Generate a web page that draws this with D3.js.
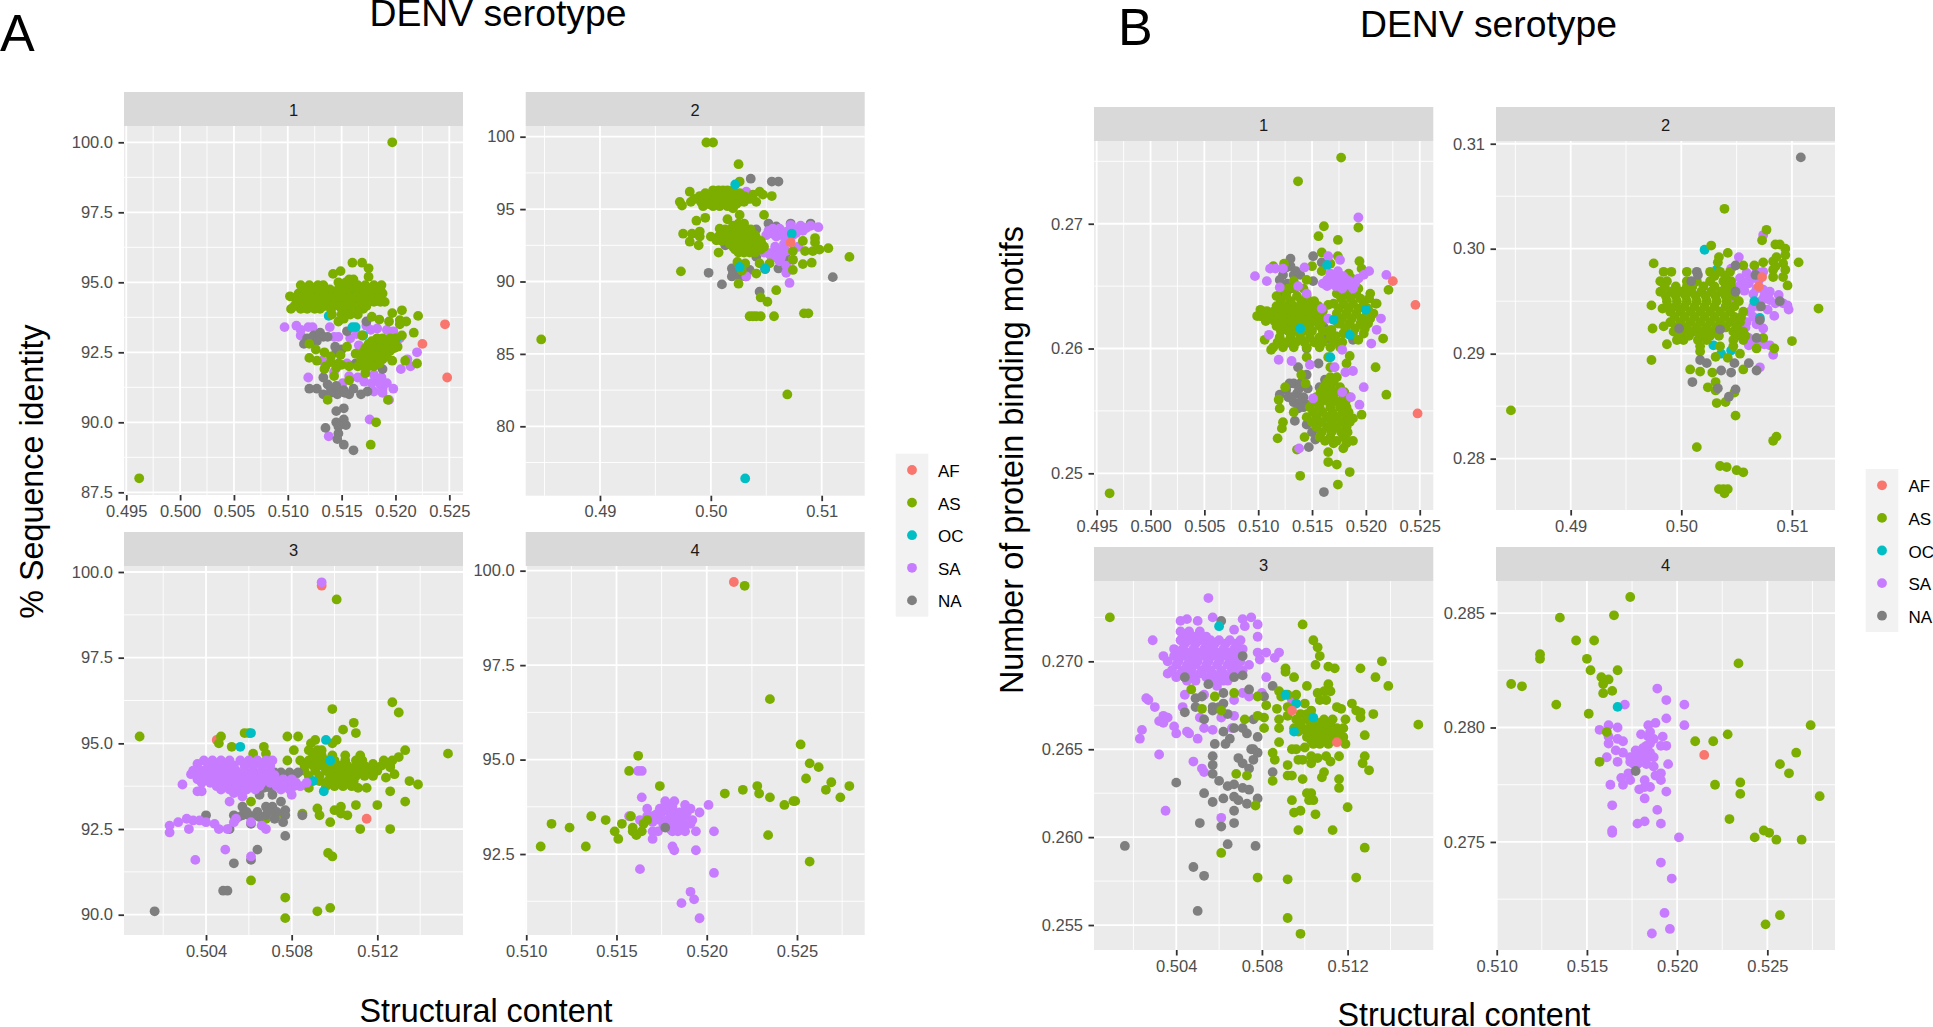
<!DOCTYPE html>
<html><head><meta charset="utf-8">
<script src="https://cdn.jsdelivr.net/npm/d3@7/dist/d3.min.js"></script>
<style>html,body{margin:0;padding:0;background:#fff;overflow:hidden}svg{display:block;font-family:"Liberation Sans",Arial,sans-serif}</style>
</head><body><svg id="c" width="1933" height="1027"></svg>
<script>
const regions=["AF","AS","OC","SA","NA"];
const regionColors=["#F8766D","#7CAE00","#00BFC4","#C77CFF","#7F7F7F"];
const titleText="DENV serotype", xTitle="Structural content", yTitleA="% Sequence identity", yTitleB="Number of protein binding motifs";

/* ---------- Figure A, serotype 1 ---------- */
const a1_AF=[[.5246,93.5],[.5225,92.8],[.5248,91.6]];
const a1_OC=[[.5158,94.6],[.5138,93.8],[.5163,93.4],[.5160,93.4],[.5201,93],[.5170,93.1]];
const a1_SA=[[.5097,93.4],[.5108,93.45],[.5112,93.3],[.5112,93.1],[.5119,93.4],[.5123,93.4],[.5139,93.4],[.5147,93.05],[.5143,93.05],[.5158,93],[.5164,93.15],[.5166,92.75],[.5173,93.45],[.5177,93.3],[.5183,93.35],[.5192,93.3],[.5198,93.25],[.5204,93.0],[.5220,92.5],[.5211,92.25],[.5205,91.9],[.5214,92.0],[.5132,92.2],[.5119,91.6],[.5143,91.8],[.5151,91.4],[.5157,91.65],[.5165,91.6],[.5171,91.45],[.5180,91.7],[.5184,91.5],[.5192,91.4],[.5198,91.2],[.5180,91.1],[.5188,91.2],[.5188,91.05],[.5194,90.8],[.5176,90.1],[.5138,89.5],[.5155,92.1],[.5178,91.4],[.5186,91.35],[.5187,91.6]];
const a1_NA=[[.5115,92.8],[.5118,93],[.5124,93.1],[.5130,93.2],[.5133,93.05],[.5127,92.9],[.5137,93.05],[.5144,92.7],[.5150,92.6],[.5145,92.5],[.5173,93.6],[.5155,93.25],[.5163,92.1],[.5188,91.9],[.5120,91.2],[.5127,91.2],[.5133,91.6],[.5133,91.0],[.5140,91.2],[.5146,91.0],[.5152,91.15],[.5157,91.0],[.5161,91.2],[.5168,91.0],[.5174,91.1],[.5137,91.35],[.5145,91.3],[.5153,91.05],[.5140,91.05],[.5145,90.4],[.5152,90.5],[.5145,90],[.5152,90.1],[.5154,89.9],[.5135,89.8],[.5147,89.6],[.5146,89.4],[.5152,89.2],[.5161,89.0],[.5147,89.85]];
const a1_AS=[[.5197,100],[.4962,88],[.5160,95.7],[.5169,95.7],[.5175,95.5],[.5149,95.4],[.5142,95.3],[.5175,95.2],[.5157,95.1],[.5161,95.1],[.5147,95.0],[.5154,95.0],
[.5112,94.9],[.5120,94.9],[.5128,94.9],[.5133,94.9],[.5150,94.9],[.5158,94.9],[.5165,94.9],[.5172,94.9],[.5180,94.9],[.5187,94.9],
[.5110,94.6],[.5115,94.6],[.5120,94.6],[.5125,94.6],[.5130,94.6],[.5135,94.6],[.5140,94.6],[.5145,94.6],[.5150,94.6],[.5155,94.6],[.5165,94.6],[.5170,94.6],[.5175,94.6],[.5180,94.6],[.5185,94.6],[.5188,94.6],
[.5102,94.5],[.5108,94.3],[.5114,94.3],[.5119,94.3],[.5125,94.3],[.5130,94.3],[.5135,94.3],[.5140,94.3],[.5146,94.3],[.5152,94.3],[.5158,94.3],[.5164,94.3],[.5170,94.3],[.5180,94.3],[.5186,94.3],[.5190,94.3],
[.5103,94.05],[.5112,94.05],[.5118,94.05],[.5125,94.05],[.5130,94.05],[.5140,94.05],[.5150,94.05],[.5155,94.05],[.5165,94.05],[.5170,94.05],
[.5178,93.77],[.5185,93.67],[.5197,93.9],[.5206,94.0],[.5221,93.8],[.5194,93.6],[.5204,93.65],[.5210,93.6],[.5204,93.5],[.5217,93.2],[.5206,93.1],[.5141,93.85],[.5147,93.6],
[.5169,93.1],[.5183,93],[.5188,93],[.5195,93],[.5200,93],[.5175,92.8],[.5180,92.8],[.5185,92.8],[.5190,92.8],[.5197,92.8],[.5202,92.7],[.5170,92.5],[.5175,92.5],[.5180,92.5],[.5185,92.5],[.5190,92.5],[.5195,92.55],[.5168,92.25],[.5173,92.25],[.5178,92.25],[.5183,92.25],[.5188,92.25],[.5197,92.2],[.5165,92.0],[.5170,92.0],[.5175,92.0],[.5180,92.0],[.5185,92.1],
[.5120,92.8],[.5126,92.6],[.5120,92.3],[.5127,92.2],[.5134,92.5],[.5135,92.0],[.5134,91.9],[.5143,91.65],[.5157,91.5],[.5140,92.35],[.5147,92.1],[.5149,92.4],[.5155,92.7],[.5157,92.0],[.5163,92.45],[.5172,91.75],[.5209,92.2],[.5220,92.1],[.5137,90.8],[.5193,90.8],[.5182,90],[.5177,89.2],[.5145,91.95],[.5150,92.05],[.5140,92.15],
[.5115,94.75],[.5123,94.75],[.5131,94.75],[.5139,94.75],[.5147,94.75],[.5155,94.75],[.5163,94.75],[.5171,94.75],[.5179,94.75],[.5186,94.75],
[.5107,94.45],[.5113,94.45],[.5118,94.45],[.5123,94.45],[.5128,94.45],[.5133,94.45],[.5138,94.45],[.5143,94.45],[.5148,94.45],[.5153,94.45],[.5158,94.45],[.5163,94.45],[.5168,94.45],[.5173,94.45],[.5178,94.45],[.5183,94.45],
[.5106,94.15],[.5116,94.15],[.5122,94.15],[.5128,94.15],[.5134,94.15],[.5143,94.15],[.5148,94.15],[.5153,94.15],[.5160,94.15],[.5167,94.15],[.5173,94.15],
[.5172,92.65],[.5178,92.65],[.5183,92.65],[.5188,92.65],[.5193,92.65],[.5199,92.65],[.5172,92.35],[.5177,92.35],[.5182,92.35],[.5187,92.35],[.5192,92.35],[.5178,92.9],[.5186,92.9],[.5192,92.9],[.5197,92.9],[.5150,93.85],[.5158,93.85],[.5165,93.85],[.5152,93.7]];

/* ---------- Figure A, serotype 2 ---------- */
const a2_AF=[[.5072,92.7]];
const a2_OC=[[.5022,96.7],[.5031,76.4],[.5049,90.9],[.5026,91],[.5073,93.3]];
const a2_SA=[[.5050,93.2],[.5056,93.65],[.5062,93.65],[.5059,93.1],[.5072,93.9],[.5081,93.85],[.5090,93.85],[.5097,93.75],[.5083,93.5],[.5074,93.2],[.5066,92.6],[.5048,92],[.5056,92],[.5062,92.1],[.5068,92.1],[.5059,91.65],[.5062,91.4],[.5074,91.5],[.5068,90.6],[.5071,89.9],[.5032,96.2],[.5032,90.35],[.5068,91.1],[.5079,92.4],[.5054,91.8],[.5065,93.4],[.5070,93.5],[.5077,93.6],[.5058,92.4],[.5064,91.85],[.5056,93.3],
[.5064,93.2],[.5068,93.1],[.5077,93.35],[.5086,93.7],[.5052,91.95],[.5060,92.2],[.5066,92.3],[.5058,91.8],[.5063,91.6],[.5052,93.5],[.5062,93.3]];
const a2_NA=[[.5036,97.1],[.5055,96.9],[.5061,96.9],[.5052,94],[.5041,93.6],[.5059,93.8],[.5072,94],[.5090,94],[.5006,93],[.5013,92.5],[.5015,92.6],[.5019,90.9],[.5020,90.6],[.5019,90.35],[.5026,90.35],[.5031,90.35],[.5032,90.7],[.4998,90.6],[.5010,89.8],[.5044,89.3],[.5110,90.3],[.5041,91.7],[.5061,90.9],[.5049,90.85],[.5068,91.6],[.5035,90.8],[.5025,90.7]];
const a2_AS=[[.4996,99.6],[.5002,99.6],[.5025,98.1],[.5026,96.9],[.4981,96.2],[.4972,95.5],[.4974,95.25],[.4982,95.5],[.5002,96.3],[.5011,96.3],[.5020,96.3],[.5044,96.2],[.5007,96.3],[.5015,96.3],
[.4990,95.9],[.4995,95.9],[.5000,95.9],[.5005,95.9],[.5010,95.9],[.5015,95.9],[.5020,95.9],[.5025,95.9],[.5030,95.9],[.5055,95.9],[.5047,96],[.5038,96],
[.4991,95.5],[.4996,95.5],[.5001,95.5],[.5006,95.5],[.5011,95.5],[.5016,95.5],[.5021,95.5],[.5026,95.5],[.5030,95.5],[.5041,95.5],[.5035,95.7],
[.4993,95.2],[.5002,95.2],[.5008,95.2],[.5015,95.2],[.5020,95.05],
[.5048,94.6],[.4995,94.4],[.4987,94.2],[.5015,94.3],[.5026,94.6],[.5025,94],[.5030,94],[.5013,93.6],[.5018,93.6],[.5023,93.6],[.5028,93.6],[.5033,93.6],[.5036,93.6],
[.5008,93.2],[.5013,93.2],[.5018,93.2],[.5023,93.2],[.5028,93.2],[.5033,93.2],[.5038,93.2],[.5040,93.2],[.5010,92.8],[.5015,92.8],[.5020,92.8],[.5025,92.8],[.5030,92.8],[.5035,92.8],[.5040,92.8],[.5045,92.8],[.5020,92.4],[.5026,92.4],[.5032,92.4],[.5038,92.4],[.5044,92.4],[.5048,92.4],[.5025,92],[.5030,92],[.5035,92],[.5040,92],
[.4975,93.3],[.4983,93.3],[.4990,93.45],[.4990,93.1],[.5,93.1],[.4981,92.75],[.4989,92.5],[.5005,92.85],[.5008,93.65],[.5007,92],[.4973,90.7],
[.5024,91.35],[.5031,91.25],[.5028,90.75],[.5041,90.55],[.5044,91.25],[.5053,91.25],[.5025,89.85],[.5059,89.4],[.5045,88.9],[.5051,88.6],[.5035,87.6],[.5038,87.6],[.5041,87.6],[.5045,87.6],[.5057,87.6],[.5084,87.8],[.5088,87.8],[.5069,82.2],[.4847,86],[.5125,91.7],[.5106,92.3],[.5098,92.2],[.5092,92.1],[.5094,93],[.5094,92.7],[.5083,92.8],[.5085,92.1],[.5091,91.3],[.5083,91.2],[.5074,90.8],[.5074,91.5],[.5074,92.1],
[.4995,96.1],[.5002,96.1],[.5008,96.1],[.5014,96.1],[.5020,96.1],[.5026,96.1],[.4985,95.7],[.4993,95.7],[.4998,95.7],[.5003,95.7],[.5008,95.7],[.5013,95.7],[.5018,95.7],[.5023,95.7],[.5028,95.7],[.4998,95.35],[.5005,95.35],[.5012,95.35],[.5018,95.35],[.5023,95.35],
[.5020,93.85],[.5027,93.85],[.5011,93.4],[.5016,93.4],[.5021,93.4],[.5026,93.4],[.5031,93.4],[.5036,93.4],[.5006,93.0],[.5011,93.0],[.5016,93.0],[.5021,93.0],[.5026,93.0],[.5031,93.0],[.5036,93.0],[.5041,93.0],[.5017,92.6],[.5022,92.6],[.5028,92.6],[.5034,92.6],[.5040,92.6],[.5046,92.6],[.5022,92.2],[.5028,92.2],[.5034,92.2],[.5040,92.2],[.5045,92.2]];

/* ---------- Figure A, serotype 3 ---------- */
const a3_AF=[[.5094,99.6],[.5045,95.1],[.5115,92.8]];
const a3_OC=[[.5061,95.3],[.5056,94.9],[.5096,95.1],[.5098,94.5],[.5095,93.6],[.5090,93.9]];
const a3_SA=[[.5039,94.5],[.5043,94.5],[.5047,94.5],[.5051,94.5],[.5056,94.5],[.5060,94.5],[.5064,94.5],[.5068,94.5],[.5071,94.5],
[.5034,94.2],[.5038,94.2],[.5042,94.2],[.5046,94.2],[.5050,94.2],[.5054,94.2],[.5058,94.2],[.5062,94.2],[.5066,94.2],[.5070,94.2],
[.5036,93.95],[.5040,93.95],[.5044,93.95],[.5048,93.95],[.5052,93.95],[.5056,93.95],[.5060,93.95],[.5064,93.95],[.5068,93.95],[.5072,93.95],[.5076,93.95],[.5080,93.95],
[.5045,93.75],[.5049,93.75],[.5053,93.75],[.5057,93.75],[.5061,93.75],[.5065,93.75],[.5073,93.75],[.5077,93.75],[.5081,93.75],[.5084,93.75],
[.5029,93.8],[.5036,93.6],[.5038,93.6],[.5036,94.4],[.5033,94.1],[.5051,93.3],[.5053,93.55],[.5057,93.45],[.5080,93.5],[.5087,93.85],
[.5023,92.4],[.5023,92.6],[.5027,92.7],[.5031,92.8],[.5034,92.75],[.5037,92.75],[.5040,92.7],[.5044,92.65],[.5032,92.5],[.5046,92.5],[.5050,92.5],[.5053,92.7],[.5054,92.8],[.5061,92.7],[.5066,92.6],[.5068,92.5],[.5049,91.9],[.5035,91.6],[.5061,91.7],[.5094,99.7],
[.5041,94.35],[.5045,94.35],[.5049,94.35],[.5053,94.35],[.5058,94.35],[.5062,94.35],[.5066,94.35],[.5070,94.35],[.5036,94.07],[.5040,94.07],[.5044,94.07],[.5048,94.07],[.5052,94.07],[.5056,94.07],[.5060,94.07],[.5064,94.07],[.5068,94.07],[.5072,94.07],[.5038,93.85],[.5042,93.85],[.5046,93.85],[.5050,93.85],[.5054,93.85],[.5058,93.85],[.5062,93.85],[.5066,93.85],[.5070,93.85],[.5074,93.85],[.5078,93.85],[.5082,93.85],[.5047,93.65],[.5051,93.65],[.5055,93.65],[.5059,93.65],[.5063,93.65],[.5075,93.65],[.5079,93.65]];
const a3_NA=[[.5072,94.15],[.5075,94.15],[.5079,94.15],[.5083,94.15],[.5055,93.8],[.5062,93.8],[.5067,93.7],[.5070,93.7],[.5065,93.5],[.5071,93.5],[.5075,93.3],[.5057,93.15],[.5060,92.9],[.5057,92.9],[.5063,92.9],[.5068,93.15],[.5071,93.15],[.5068,92.9],[.5072,92.8],[.5077,93.05],[.5077,92.9],[.5076,92.7],[.5053,92.9],[.5061,92.65],[.5040,92.9],[.5085,92.9],[.5077,92.3],[.5064,91.9],[.5061,91.6],[.5053,91.5],[.5048,90.7],[.5050,90.7],[.5016,90.1],[.5051,92.5],[.5059,93.0],[.5064,93.0],[.5069,93.0],[.5073,93.0],[.5055,92.85],[.5065,92.85]];
const a3_AS=[[.5009,95.2],[.5101,99.2],[.5127,96.2],[.5130,95.9],[.5099,96],[.5109,95.6],[.5104,95.4],[.5110,95.3],[.5153,94.7],[.5133,94.8],[.5047,95.2],[.5046,95],[.5052,94.9],[.5058,95.3],[.5060,95.3],[.5067,94.9],[.5062,94.7],[.5068,94.7],[.5078,95.2],[.5083,95.2],[.5081,94.8],[.5078,94.5],[.5091,95.1],[.5089,95],[.5101,95.1],[.5099,95],
[.5088,94.8],[.5092,94.8],[.5094,94.8],[.5084,94.5],[.5088,94.5],[.5092,94.5],[.5096,94.5],[.5100,94.5],[.5105,94.5],[.5110,94.5],[.5113,94.5],[.5123,94.5],[.5127,94.5],[.5130,94.6],[.5118,94.4],
[.5086,94.2],[.5091,94.2],[.5096,94.2],[.5100,94.2],[.5104,94.2],[.5108,94.2],[.5112,94.2],[.5116,94.2],[.5120,94.2],[.5126,94.3],
[.5093,93.9],[.5097,93.9],[.5101,93.9],[.5105,93.9],[.5109,93.9],[.5111,93.7],[.5115,93.7],[.5118,94.05],[.5124,94],[.5128,94.1],[.5135,93.9],[.5139,93.8],[.5126,93.6],[.5133,93.3],[.5120,93.2],[.5110,93.2],[.5103,93.15],[.5100,93.05],[.5106,92.9],[.5103,92.95],[.5098,92.7],[.5093,92.9],[.5092,93.1],[.5085,92.95],[.5088,93.7],[.5082,94.1],[.5112,92.5],[.5126,92.5],[.5073,92.9],[.5068,92.8],[.5061,93.3],[.5097,91.8],[.5099,91.7],[.5061,91],[.5077,90.5],[.5098,90.2],[.5092,90.1],[.5077,89.9],
[.5086,94.35],[.5090,94.35],[.5094,94.35],[.5098,94.35],[.5102,94.35],[.5106,94.35],[.5110,94.35],[.5114,94.35],[.5118,94.35],[.5122,94.35],[.5126,94.35],[.5088,94.05],[.5093,94.05],[.5098,94.05],[.5102,94.05],[.5106,94.05],[.5110,94.05],[.5114,94.05],[.5090,94.65],[.5094,94.65],[.5099,94.65],[.5105,94.65],[.5112,94.65],[.5096,93.75],[.5100,93.75],[.5104,93.75],[.5108,93.75]];

/* ---------- Figure A, serotype 4 ---------- */
const a4_AF=[[.5215,99.7]];
const a4_OC=[];
const a4_NA=[[.5177,93.2]];
const a4_SA=[[.5162,94.7],[.5164,94.7],[.5164,94],[.5167,93.7],[.5174,93.7],[.5177,93.9],[.5182,93.9],[.5188,93.8],[.5191,93.7],[.5196,93.6],[.5201,93.8],[.5157,93.5],[.5163,93.4],[.5167,93.5],[.5170,93.5],[.5175,93.6],[.5179,93.7],[.5182,93.6],[.5185,93.6],[.5189,93.6],[.5192,93.4],[.5186,93.4],[.5182,93.4],[.5178,93.4],[.5174,93.4],[.5170,93.35],[.5170,93.1],[.5173,93.1],[.5181,93.1],[.5184,93.1],[.5188,93.1],[.5194,93.1],[.5183,93.3],[.5180,93.3],[.5191,93.3],[.5204,93.1],[.5170,92.9],[.5181,92.7],[.5182,92.6],[.5194,92.6],[.5163,92.1],[.5204,92],[.5191,91.5],[.5193,91.3],[.5186,91.2],[.5196,90.8],
[.5172,93.55],[.5180,93.55],[.5184,93.5],[.5188,93.5],[.5176,93.25],[.5180,93.15],[.5184,93.25],[.5188,93.25],[.5177,93.8],[.5181,93.75]];
const a4_AS=[[.5221,99.6],[.5235,96.6],[.5252,95.4],[.5257,94.9],[.5262,94.8],[.5255,94.5],[.5269,94.4],[.5266,94.2],[.5279,94.3],[.5274,94],[.5228,94.3],[.5229,94.1],[.5220,94.2],[.5210,94.1],[.5235,94],[.5243,93.8],[.5248,93.9],[.5249,93.9],[.5234,93],[.5257,92.3],[.5162,95.1],[.5157,94.7],[.5174,94.3],[.5136,93.5],[.5144,93.4],[.5114,93.3],[.5124,93.2],[.5108,92.7],[.5133,92.7],[.5149,93.1],[.5153,93.3],[.5151,92.9],[.5158,93.5],[.5159,93.2],[.5159,93.1],[.5161,93],[.5164,93.1],[.5165,93.3],[.5167,93.4]];

/* ---------- Figure B, serotype 1 ---------- */
const b1_AF=[[.5225,.2654],[.5246,.2635],[.5248,.2548]];
const b1_OC=[[.5164,.2667],[.5200,.2631],[.5170,.2623],[.5185,.2611],[.5167,.2593],[.5139,.2616]];
const b1_SA=[[.5193,.2705],[.5097,.2658],[.5108,.2654],[.5111,.2664],[.5116,.2664],[.5123,.2664],[.5120,.2649],[.5143,.2665],[.5145,.2644],[.5137,.2650],[.5165,.2674],[.5176,.2671],[.5174,.2662],[.5164,.2655],[.5170,.2654],[.5176,.2652],[.5182,.2651],[.5188,.2648],[.5164,.2650],[.5172,.2650],[.5179,.2658],[.5193,.2656],[.5198,.2659],[.5203,.2662],[.5219,.2659],[.5159,.2632],[.5165,.2624],[.5214,.2624],[.5210,.2615],[.5205,.2604],[.5110,.2611],[.5119,.2591],[.5131,.2590],[.5148,.2587],[.5171,.2585],[.5181,.2581],[.5188,.2582],[.5198,.2569],[.5178,.2565],[.5186,.2561],[.5194,.2555],[.5138,.2520],[.5151,.2560],[.5178,.2599],
[.5167,.2660],[.5173,.2657],[.5181,.2656],[.5168,.2652],[.5178,.2648],[.5185,.2654],[.5160,.2652],[.5190,.2652]];
const b1_NA=[[.5130,.2672],[.5151,.2674],[.5159,.2669],[.5130,.2666],[.5123,.2659],[.5133,.2659],[.5120,.2655],[.5139,.2659],[.5151,.2654],[.5130,.2648],[.5120,.2643],[.5161,.2617],[.5164,.2608],[.5131,.2604],[.5145,.2600],[.5156,.2588],[.5137,.2585],[.5133,.2572],[.5139,.2572],[.5145,.2579],[.5126,.2567],[.5120,.2563],[.5136,.2564],[.5142,.2561],[.5133,.2557],[.5139,.2557],[.5145,.2555],[.5162,.2575],[.5157,.2569],[.5134,.2542],[.5145,.2539],[.5157,.2541],[.5150,.2533],[.5153,.2527],[.5147,.2521],[.5161,.2485],[.5188,.2607],
[.5126,.2665],[.5127,.2652],[.5135,.2662],[.5126,.2645],[.5129,.2572],[.5131,.2561],[.5137,.2552],[.5142,.2553],[.5128,.2561],[.5138,.2568],[.5146,.2568]];
const b1_AS=[[.5177,.2753],[.5137,.2734],[.4962,.2484],[.5161,.2698],[.5193,.2697],[.5156,.2690],[.5174,.2687],[.5159,.2677],[.5174,.2674],[.5194,.2670],[.5167,.2668],[.5196,.2664],[.5114,.2666],[.5124,.2668],[.5150,.2666],[.5159,.2662],[.5184,.2660],[.5187,.2656],[.5133,.2654],[.5145,.2655],
[.5117,.2642],[.5126,.2642],[.5136,.2642],[.5145,.2642],[.5117,.2634],[.5125,.2634],[.5133,.2634],[.5140,.2634],[.5148,.2634],[.5156,.2634],
[.5099,.2626],[.5103,.2626],[.5111,.2626],[.5119,.2626],[.5126,.2626],[.5134,.2626],[.5142,.2626],[.5150,.2626],[.5157,.2626],
[.5117,.2618],[.5125,.2618],[.5133,.2618],[.5140,.2618],[.5148,.2618],[.5157,.2618],[.5120,.2609],[.5130,.2609],[.5139,.2609],[.5148,.2609],[.5157,.2609],[.5167,.2609],[.5114,.2601],[.5123,.2601],[.5133,.2601],[.5145,.2601],[.5157,.2601],[.5167,.2601],[.5176,.2601],
[.5173,.2644],[.5182,.2644],[.5191,.2644],[.5204,.2644],[.5170,.2636],[.5179,.2636],[.5188,.2636],[.5198,.2636],[.5209,.2636],[.5173,.2628],[.5182,.2628],[.5191,.2628],[.5201,.2628],[.5207,.2628],[.5176,.2620],[.5185,.2620],[.5195,.2620],[.5202,.2620],[.5179,.2612],[.5188,.2612],[.5198,.2612],[.5193,.2607],
[.5167,.2577],[.5173,.2577],[.5161,.2569],[.5167,.2569],[.5176,.2569],[.5154,.2561],[.5162,.2561],[.5170,.2561],[.5179,.2561],[.5184,.2561],[.5148,.2553],[.5157,.2553],[.5167,.2553],[.5176,.2553],[.5182,.2553],[.5145,.2545],[.5154,.2545],[.5164,.2545],[.5173,.2545],[.5182,.2545],[.5188,.2544],[.5154,.2537],[.5164,.2537],[.5173,.2537],[.5182,.2537],[.5157,.2529],[.5167,.2529],[.5179,.2529],[.5170,.2524],[.5182,.2524],[.5188,.2526],[.5179,.2520],
[.5119,.2559],[.5120,.2552],[.5123,.2541],[.5122,.2536],[.5118,.2528],[.5133,.2549],[.5143,.2529],[.5136,.2519],[.5165,.2517],[.5165,.2509],[.5173,.2507],[.5185,.2501],[.5174,.2491],[.5139,.2498],[.5196,.2547],[.5209,.2585],[.5219,.2563],[.5216,.2608],[.5221,.2647],[.5210,.2636],[.5185,.2594],[.5182,.2588],[.5145,.2593],[.5140,.2579],[.5144,.2572],[.5165,.2593],[.5167,.2585],[.5106,.2607],[.5112,.2599],[.5102,.2631],[.5102,.2626],[.5125,.2569],
[.5122,.2648],[.5128,.2648],[.5134,.2648],[.5142,.2648],[.5121,.2638],[.5130,.2638],[.5140,.2638],[.5147,.2638],[.5152,.2638],[.5108,.2630],[.5115,.2630],[.5122,.2630],[.5130,.2630],[.5137,.2630],[.5144,.2630],[.5152,.2630],[.5160,.2630],[.5107,.2622],[.5115,.2622],[.5122,.2622],[.5130,.2622],[.5138,.2622],[.5146,.2622],[.5153,.2622],[.5160,.2622],[.5121,.2614],[.5128,.2614],[.5135,.2614],[.5142,.2614],[.5150,.2614],[.5160,.2614],[.5165,.2614],[.5118,.2605],[.5126,.2605],[.5135,.2605],[.5143,.2605],[.5152,.2605],[.5160,.2605],[.5170,.2605],[.5178,.2605],
[.5178,.2648],[.5185,.2648],[.5193,.2648],[.5177,.2640],[.5186,.2640],[.5195,.2640],[.5203,.2640],[.5175,.2632],[.5184,.2632],[.5193,.2632],[.5202,.2632],[.5178,.2624],[.5187,.2624],[.5196,.2624],[.5204,.2624],[.5181,.2616],[.5190,.2616],[.5199,.2616],[.5165,.2635],[.5168,.2615],[.5172,.2610],[.5174,.2620],
[.5164,.2573],[.5170,.2573],[.5158,.2565],[.5164,.2565],[.5172,.2565],[.5180,.2565],[.5151,.2557],[.5158,.2557],[.5166,.2557],[.5174,.2557],[.5181,.2557],[.5151,.2549],[.5160,.2549],[.5169,.2549],[.5178,.2549],[.5184,.2549],[.5150,.2541],[.5159,.2541],[.5168,.2541],[.5177,.2541],[.5185,.2541],[.5159,.2533],[.5168,.2533],[.5177,.2533],[.5183,.2533],[.5162,.2526],[.5173,.2526],[.5184,.2526]];

/* ---------- Figure B, serotype 2 ---------- */
const b2_AF=[[.5073,.2973],[.5070,.2964]];
const b2_OC=[[.5021,.2999],[.5032,.2980],[.5066,.2950],[.5071,.2934],[.5029,.2908],[.5036,.2900],[.5045,.2903]];
const b2_SA=[[.5052,.2992],[.5074,.3013],[.5045,.2981],[.5074,.2978],[.5059,.2977],[.5053,.2972],[.5061,.2967],[.5068,.2978],[.5052,.2964],[.5065,.2957],[.5074,.2961],[.5080,.2959],[.5088,.2956],[.5073,.2951],[.5080,.2951],[.5096,.2946],[.5097,.2942],[.5065,.2945],[.5062,.2940],[.5047,.2950],[.5084,.2936],[.5050,.2930],[.5059,.2930],[.5065,.2935],[.5074,.2924],[.5061,.2915],[.5061,.2908],[.5071,.2910],[.5080,.2908],[.5083,.2899],[.5071,.2887],
[.5062,.2972],[.5070,.2970],[.5057,.2960],[.5068,.2962],[.5078,.2955],[.5085,.2948],[.5070,.2945],[.5078,.2942],[.5092,.2948],[.5065,.2972],[.5058,.2968],[.5075,.2955],[.5068,.2908],[.5075,.2909],[.5065,.2912],[.5058,.2925],[.5068,.2928]];
const b2_NA=[[.5108,.3087],[.5049,.2984],[.5014,.2978],[.5009,.2969],[.5015,.2975],[.5067,.2975],[.5049,.2959],[.5089,.2950],[.5072,.2945],[.5071,.2932],[.4998,.2924],[.5035,.2923],[.5017,.2894],[.5023,.2891],[.5036,.2884],[.5045,.2882],[.5048,.2891],[.5061,.2891],[.5068,.2884],[.5010,.2873],[.5049,.2866],[.5043,.2859],[.5033,.2867],[.5068,.2915]];
const b2_AS=[[.5039,.3038],[.5077,.3018],[.5073,.3008],[.5027,.3003],[.5042,.2996],[.5034,.2992],[.5033,.2987],[.5085,.3004],[.5089,.3004],[.5094,.3000],[.5094,.2994],[.5086,.2992],[.5083,.2988],[.5085,.2983],[.5092,.2986],[.5094,.2980],[.5083,.2980],[.5092,.2973],[.5083,.2973],[.5096,.2965],[.5106,.2987],[.4975,.2986],[.5056,.2984],[.5066,.2984],[.5074,.2987],[.5124,.2943],[.5100,.2912],[.4973,.2946],[.4983,.2943],[.4974,.2924],[.4984,.2926],[.4987,.2909],[.4973,.2894],[.4846,.2846],[.5014,.2811],[.5035,.2793],[.5041,.2792],[.5050,.2789],[.5056,.2787],[.5034,.2771],[.5038,.2771],[.5042,.2771],[.5039,.2767],[.5083,.2817],[.5086,.2821],[.5049,.2841],[.5032,.2853],[.5040,.2854],[.5048,.2863],[.5024,.2868],[.5031,.2873],[.5031,.2865],[.5008,.2885],[.5017,.2883],[.5028,.2882],[.5056,.2885],[.5017,.2902],[.5031,.2897],[.5042,.2896],[.5053,.2900],[.5068,.2905],[.5084,.2905],[.5074,.2915],
[.4984,.2978],[.4991,.2978],[.5005,.2978],[.5026,.2978],[.5035,.2978],[.5044,.2978],[.4981,.2969],[.4987,.2969],[.5005,.2969],[.5014,.2969],[.5026,.2969],[.5038,.2969],[.5045,.2969],
[.4981,.2959],[.4991,.2959],[.5,.2959],[.5009,.2959],[.5018,.2959],[.5027,.2959],[.5036,.2959],[.5045,.2959],[.4987,.2950],[.4996,.2950],[.5005,.2950],[.5014,.2950],[.5023,.2950],[.5032,.2950],[.5041,.2950],[.5052,.2950],
[.4990,.2940],[.4999,.2940],[.5008,.2940],[.5017,.2940],[.5026,.2940],[.5035,.2940],[.5044,.2940],[.5056,.2940],[.4990,.2930],[.4999,.2930],[.5008,.2930],[.5017,.2930],[.5026,.2930],[.5035,.2930],[.5044,.2930],[.5053,.2930],
[.4993,.2921],[.5002,.2921],[.5011,.2921],[.5020,.2921],[.5029,.2921],[.5047,.2921],[.5056,.2921],[.4996,.2913],[.5002,.2913],[.5015,.2913],[.5023,.2913],[.5047,.2913],[.5056,.2913],[.5017,.2907],[.5035,.2907],[.5047,.2907],
[.5030,.2974],[.5040,.2974],[.4985,.2964],[.4995,.2964],[.5005,.2964],[.5010,.2964],[.5020,.2964],[.5030,.2964],[.5040,.2964],[.5045,.2964],[.4986,.2955],[.4995,.2955],[.5004,.2955],[.5013,.2955],[.5022,.2955],[.5031,.2955],[.5040,.2955],[.5048,.2955],[.4988,.2945],[.4995,.2945],[.5003,.2945],[.5012,.2945],[.5021,.2945],[.5030,.2945],[.5040,.2945],[.5048,.2945],[.4994,.2935],[.5003,.2935],[.5012,.2935],[.5021,.2935],[.5030,.2935],[.5039,.2935],[.5048,.2935],[.5054,.2935],[.4995,.2925],[.5005,.2925],[.5014,.2925],[.5023,.2925],[.5032,.2925],[.5040,.2925],[.5050,.2925],[.4998,.2917],[.5007,.2917],[.5017,.2917],[.5026,.2917],[.5034,.2917],[.5050,.2917],[.5058,.2917]];

/* ---------- Figure B, serotype 3 ---------- */
const b3_AF=[[.5115,.2654],[.5094,.2672]];
const b3_OC=[[.5060,.2720],[.5096,.2676],[.5104,.2668],[.5091,.2681],[.5095,.2660]];
const b3_SA=[[.5055,.2736],[.5029,.2712],[.5057,.2725],[.5075,.2725],[.5071,.2724],[.5078,.2721],[.5072,.2720],[.5042,.2723],[.5045,.2724],[.5050,.2723],[.5067,.2718],[.5078,.2714],
[.5042,.2717],[.5046,.2717],[.5051,.2717],[.5042,.2712],[.5046,.2712],[.5051,.2712],[.5056,.2712],[.5060,.2712],[.5065,.2712],[.5070,.2712],[.5039,.2707],[.5043,.2707],[.5048,.2707],[.5053,.2707],[.5057,.2707],[.5062,.2707],[.5067,.2707],[.5071,.2707],
[.5034,.2703],[.5039,.2703],[.5043,.2703],[.5048,.2703],[.5053,.2703],[.5057,.2703],[.5062,.2703],[.5067,.2703],[.5040,.2698],[.5045,.2698],[.5049,.2698],[.5054,.2698],[.5059,.2698],[.5064,.2698],[.5068,.2698],[.5074,.2698],
[.5036,.2693],[.5042,.2693],[.5046,.2693],[.5051,.2693],[.5057,.2693],[.5062,.2693],[.5068,.2693],[.5045,.2689],[.5049,.2689],[.5057,.2689],[.5062,.2689],[.5064,.2689],
[.5078,.2705],[.5082,.2705],[.5088,.2705],[.5086,.2702],[.5079,.2701],[.5082,.2691],[.5080,.2682],[.5074,.2680],[.5071,.2682],[.5067,.2678],[.5044,.2681],[.5059,.2686],[.5053,.2681],[.5026,.2679],[.5027,.2678],[.5030,.2674],[.5043,.2674],[.5034,.2669],[.5032,.2666],[.5034,.2665],[.5036,.2668],[.5039,.2663],[.5040,.2659],[.5045,.2660],[.5046,.2659],[.5050,.2656],[.5024,.2661],[.5023,.2656],[.5032,.2647],[.5048,.2643],[.5052,.2639],[.5053,.2637],[.5035,.2615],[.5061,.2611],[.5051,.2668],[.5053,.2662],[.5057,.2661],[.5061,.2668],[.5067,.2669],[.5066,.2662],[.5094,.2678],
[.5044,.2714],[.5049,.2714],[.5054,.2714],[.5044,.2710],[.5049,.2710],[.5054,.2710],[.5058,.2710],[.5063,.2710],[.5068,.2710],[.5041,.2705],[.5046,.2705],[.5050,.2705],[.5055,.2705],[.5060,.2705],[.5065,.2705],[.5069,.2705],[.5036,.2700],[.5041,.2700],[.5046,.2700],[.5050,.2700],[.5055,.2700],[.5060,.2700],[.5065,.2700],[.5070,.2700],[.5038,.2695],[.5043,.2695],[.5047,.2695],[.5052,.2695],[.5056,.2695],[.5061,.2695],[.5066,.2695],[.5071,.2695],[.5040,.2691],[.5044,.2691],[.5048,.2691],[.5054,.2691],[.5060,.2691],[.5065,.2691]];
const b3_NA=[[.5061,.2723],[.5071,.2703],[.5044,.2691],[.5055,.2687],[.5067,.2691],[.5071,.2692],[.5074,.2684],[.5085,.2686],[.5081,.2680],[.5049,.2679],[.5049,.2674],[.5044,.2671],[.5052,.2680],[.5057,.2674],[.5062,.2676],[.5062,.2682],[.5053,.2667],[.5057,.2672],[.5060,.2674],[.5064,.2670],[.5062,.2660],[.5067,.2662],[.5071,.2662],[.5076,.2667],[.5073,.2659],[.5078,.2657],[.5058,.2653],[.5063,.2653],[.5065,.2656],[.5076,.2650],[.5075,.2650],[.5078,.2648],[.5057,.2646],[.5057,.2641],[.5057,.2636],[.5060,.2632],[.5069,.2645],[.5071,.2642],[.5074,.2639],[.5076,.2644],[.5064,.2629],[.5067,.2630],[.5071,.2628],[.5074,.2627],[.5053,.2625],[.5057,.2620],[.5062,.2622],[.5067,.2623],[.5069,.2621],[.5073,.2619],[.5078,.2622],[.5040,.2631],[.5085,.2637],[.5067,.2615],[.5051,.2608],[.5061,.2606],[.5067,.2608],[.5016,.2595],[.5064,.2596],[.5077,.2595],[.5048,.2583],[.5053,.2578],[.5050,.2558]];
const b3_AS=[[.5009,.2725],[.5099,.2721],[.5104,.2712],[.5106,.2708],[.5107,.2703],[.5136,.2700],[.5105,.2698],[.5111,.2697],[.5114,.2696],[.5126,.2696],[.5133,.2691],[.5139,.2686],[.5153,.2664],[.5091,.2696],[.5091,.2694],[.5095,.2691],[.5101,.2686],[.5111,.2687],[.5088,.2683],[.5089,.2680],[.5092,.2681],[.5096,.2681],[.5078,.2680],[.5106,.2682],[.5109,.2683],[.5112,.2683],[.5082,.2675],[.5087,.2673],[.5092,.2674],[.5100,.2676],[.5103,.2672],[.5107,.2678],[.5110,.2678],[.5115,.2674],[.5117,.2673],[.5122,.2676],[.5124,.2672],[.5126,.2671],[.5126,.2668],[.5132,.2670],[.5078,.2669],[.5081,.2668],[.5081,.2662],[.5088,.2667],[.5088,.2662],[.5092,.2669],
[.5098,.2670],[.5101,.2670],[.5096,.2667],[.5101,.2667],[.5104,.2667],[.5109,.2667],[.5113,.2667],[.5095,.2662],[.5099,.2662],[.5102,.2662],[.5106,.2662],[.5110,.2662],[.5115,.2662],[.5118,.2662],[.5101,.2657],[.5105,.2657],[.5109,.2657],[.5113,.2657],[.5118,.2657],[.5104,.2653],[.5107,.2653],[.5111,.2653],[.5119,.2653],
[.5119,.2667],[.5128,.2658],[.5088,.2654],[.5094,.2650],[.5096,.2650],[.5100,.2651],[.5085,.2648],[.5086,.2644],[.5097,.2644],[.5099,.2644],[.5092,.2641],[.5092,.2635],[.5094,.2635],[.5099,.2633],[.5103,.2646],[.5103,.2642],[.5106,.2645],[.5110,.2646],[.5112,.2643],[.5116,.2646],[.5109,.2637],[.5108,.2634],[.5128,.2646],[.5127,.2642],[.5130,.2638],[.5116,.2633],[.5116,.2628],[.5085,.2632],[.5068,.2636],[.5073,.2635],[.5101,.2625],[.5103,.2625],[.5102,.2621],[.5104,.2621],[.5094,.2621],[.5120,.2617],[.5095,.2614],[.5098,.2615],[.5105,.2613],[.5097,.2604],[.5113,.2604],[.5128,.2594],[.5077,.2618],[.5061,.2591],[.5078,.2577],[.5092,.2576],[.5124,.2577],[.5092,.2554],[.5098,.2545],[.5047,.2684],[.5058,.2680],[.5067,.2682],[.5052,.2673],[.5061,.2672],[.5072,.2667],
[.5098,.2665],[.5103,.2665],[.5107,.2665],[.5112,.2665],[.5097,.2660],[.5101,.2660],[.5104,.2660],[.5108,.2660],[.5112,.2660],[.5116,.2660],[.5103,.2655],[.5107,.2655],[.5111,.2655],[.5116,.2655]];

/* ---------- Figure B, serotype 4 ---------- */
const b4_AF=[[.5215,.2788]];
const b4_OC=[[.5167,.2809]];
const b4_NA=[[.5177,.2781]];
const b4_SA=[[.5189,.2817],[.5194,.2812],[.5204,.2810],[.5171,.2810],[.5194,.2804],[.5188,.2802],[.5204,.2801],[.5184,.2801],[.5157,.2799],[.5162,.2801],[.5167,.2800],[.5162,.2796],[.5162,.2793],[.5167,.2795],[.5170,.2794],[.5180,.2797],[.5185,.2798],[.5187,.2795],[.5192,.2796],[.5191,.2792],[.5194,.2792],[.5166,.2790],[.5170,.2789],[.5167,.2785],[.5161,.2787],[.5174,.2787],[.5178,.2787],[.5181,.2791],[.5185,.2789],[.5181,.2787],[.5178,.2784],[.5183,.2784],[.5187,.2783],[.5174,.2785],[.5187,.2787],[.5179,.2789],[.5195,.2784],[.5173,.2780],[.5174,.2777],[.5169,.2778],[.5170,.2775],[.5163,.2775],[.5182,.2777],[.5179,.2773],[.5182,.2774],[.5185,.2774],[.5188,.2779],[.5191,.2780],[.5191,.2777],[.5194,.2772],[.5182,.2769],[.5164,.2766],[.5189,.2764],[.5178,.2758],[.5182,.2759],[.5191,.2758],[.5164,.2755],[.5164,.2754],[.5201,.2752],[.5191,.2741],[.5197,.2734],[.5193,.2719],[.5196,.2712],[.5186,.2710],
[.5176,.2787],[.5180,.2785],[.5182,.2789],[.5183,.2792],[.5184,.2787],[.5176,.2784],[.5177,.2790],[.5185,.2793],[.5184,.2796]];
const b4_AS=[[.5174,.2857],[.5165,.2849],[.5135,.2848],[.5144,.2838],[.5154,.2838],[.5124,.2832],[.5124,.2830],[.5150,.2830],[.5152,.2825],[.5167,.2825],[.5158,.2822],[.5162,.2821],[.5159,.2819],[.5164,.2816],[.5159,.2815],[.5108,.2819],[.5114,.2818],[.5133,.2810],[.5151,.2806],[.5161,.2798],[.5157,.2785],[.5234,.2828],[.5228,.2797],[.5210,.2794],[.5220,.2794],[.5274,.2801],[.5266,.2789],[.5257,.2784],[.5262,.2780],[.5235,.2776],[.5235,.2771],[.5221,.2775],[.5279,.2770],[.5229,.2760],[.5243,.2752],[.5248,.2755],[.5251,.2754],[.5255,.2751],[.5269,.2751],[.5257,.2718],[.5249,.2714]];

/* tick labels */
const a1_xTicks=["0.495","0.500","0.505","0.510","0.515","0.520","0.525"], a1_yTicks=["87.5","90.0","92.5","95.0","97.5","100.0"];
const a2_xTicks=["0.49","0.50","0.51"], a2_yTicks=["80","85","90","95","100"];
const a3_xTicks=["0.504","0.508","0.512"], a3_yTicks=["90.0","92.5","95.0","97.5","100.0"];
const a4_xTicks=["0.510","0.515","0.520","0.525"], a4_yTicks=["92.5","95.0","97.5","100.0"];
const b1_xTicks=a1_xTicks, b1_yTicks=["0.25","0.26","0.27"];
const b2_xTicks=a2_xTicks, b2_yTicks=["0.28","0.29","0.30","0.31"];
const b3_xTicks=a3_xTicks, b3_yTicks=["0.255","0.260","0.265","0.270"];
const b4_xTicks=a4_xTicks, b4_yTicks=["0.275","0.280","0.285"];

/* facet table: box is the panel rectangle, lim the axis limits */
const facets=[
 {label:"1",box:[124,126,463,495],xlim:[.49479,.52627],ylim:[87.404,100.582],xt:a1_xTicks,yt:a1_yTicks,s:{AF:a1_AF,AS:a1_AS,OC:a1_OC,SA:a1_SA,NA:a1_NA},order:["SA","NA","OC","AS","AF"]},
 {label:"2",box:[525.7,126,864.7,495.7],xlim:[.48330,.51388],ylim:[75.207,100.739],xt:a2_xTicks,yt:a2_yTicks,s:{AF:a2_AF,AS:a2_AS,OC:a2_OC,SA:a2_SA,NA:a2_NA},order:["NA","SA","AS","OC","AF"]},
 {label:"3",box:[124,566,463,935],xlim:[.50017,.51600],ylim:[89.408,100.175],xt:a3_xTicks,yt:a3_yTicks,s:{AF:a3_AF,AS:a3_AS,OC:a3_OC,SA:a3_SA,NA:a3_NA},order:["AF","AS","OC","NA","SA"]},
 {label:"4",box:[525.7,566,864.7,935],xlim:[.50997,.52875],ylim:[90.357,100.124],xt:a4_xTicks,yt:a4_yTicks,s:{AF:a4_AF,AS:a4_AS,OC:a4_OC,SA:a4_SA,NA:a4_NA},order:["SA","AS","OC","NA","AF"]},
 {label:"1",box:[1094,141,1433.3,510],xlim:[.49475,.52626],ylim:[.24706,.27663],xt:b1_xTicks,yt:b1_yTicks,s:{AF:b1_AF,AS:b1_AS,OC:b1_OC,SA:b1_SA,NA:b1_NA},order:["NA","AS","SA","OC","AF"]},
 {label:"2",box:[1496,141,1835,510],xlim:[.48325,.51389],ylim:[.27511,.31026],xt:b2_xTicks,yt:b2_yTicks,s:{AF:b2_AF,AS:b2_AS,OC:b2_OC,SA:b2_SA,NA:b2_NA},order:["SA","OC","AS","NA","AF"]},
 {label:"3",box:[1094,581,1433.3,950],xlim:[.50016,.51600],ylim:[.25358,.27457],xt:b3_xTicks,yt:b3_yTicks,s:{AF:b3_AF,AS:b3_AS,OC:b3_OC,SA:b3_SA,NA:b3_NA},order:["SA","NA","AS","OC","AF"]},
 {label:"4",box:[1496,581,1835,950],xlim:[.50996,.52875],ylim:[.27028,.28640],xt:b4_xTicks,yt:b4_yTicks,s:{AF:b4_AF,AS:b4_AS,OC:b4_OC,SA:b4_SA,NA:b4_NA},order:["SA","AS","OC","NA","AF"]}
];
const stripH=34, dotR=4.9, tickFont=16.5;
const color=d3.scaleOrdinal(regions,regionColors);
const svg=d3.select("#c");

function minors(vals,lim){
  const step=vals[1]-vals[0], out=[];
  for(let v=vals[0]-step/2;v<lim[1];v+=step){ if(v>lim[0]) out.push(v); }
  return out;
}
facets.forEach(f=>{
  const [x0,y0,x1,y1]=f.box;
  const g=svg.append("g");
  const x=d3.scaleLinear(f.xlim,[x0,x1]), y=d3.scaleLinear(f.ylim,[y1,y0]);
  const xv=f.xt.map(Number), yv=f.yt.map(Number);
  g.append("rect").attr("x",x0).attr("y",y0-stripH).attr("width",x1-x0).attr("height",stripH).attr("fill","#D9D9D9");
  g.append("text").attr("x",(x0+x1)/2).attr("y",y0-stripH/2+6.5).attr("text-anchor","middle").attr("font-size",16.5).attr("fill","#1A1A1A").text(f.label);
  g.append("rect").attr("x",x0).attr("y",y0).attr("width",x1-x0).attr("height",y1-y0).attr("fill","#EBEBEB");
  const grid=g.append("g").attr("stroke","#fff");
  minors(xv,f.xlim).forEach(v=>grid.append("line").attr("x1",x(v)).attr("x2",x(v)).attr("y1",y0).attr("y2",y1).attr("stroke-width",.9));
  minors(yv,f.ylim).forEach(v=>grid.append("line").attr("y1",y(v)).attr("y2",y(v)).attr("x1",x0).attr("x2",x1).attr("stroke-width",.9));
  xv.forEach(v=>grid.append("line").attr("x1",x(v)).attr("x2",x(v)).attr("y1",y0).attr("y2",y1).attr("stroke-width",1.8));
  yv.forEach(v=>grid.append("line").attr("y1",y(v)).attr("y2",y(v)).attr("x1",x0).attr("x2",x1).attr("stroke-width",1.8));
  const ax=g.append("g").attr("transform",`translate(0,${y1})`).call(d3.axisBottom(x).tickValues(xv).tickFormat((d,i)=>f.xt[i]).tickSize(5.5).tickPadding(4.5));
  const ay=g.append("g").attr("transform",`translate(${x0},0)`).call(d3.axisLeft(y).tickValues(yv).tickFormat((d,i)=>f.yt[i]).tickSize(5.5).tickPadding(5.5));
  [ax,ay].forEach(a=>{a.select(".domain").remove();a.selectAll("line").attr("stroke","#333").attr("stroke-width",1.8);a.selectAll("text").attr("font-size",tickFont).attr("font-family","Liberation Sans").attr("fill","#4D4D4D");});
  const clip="clip"+x0+"_"+y0;
  g.append("clipPath").attr("id",clip).append("rect").attr("x",x0).attr("y",y0).attr("width",x1-x0).attr("height",y1-y0);
  const pts=g.append("g").attr("clip-path",`url(#${clip})`);
  f.order.forEach(r=>{
    pts.append("g").selectAll("circle").data(f.s[r]).join("circle").attr("cx",d=>x(d[0])).attr("cy",d=>y(d[1])).attr("r",dotR).attr("fill",color(r));
  });
});

function legend(kx,ky0,kstep,tx){
  const g=svg.append("g");
  g.append("rect").attr("x",kx-16.3).attr("y",ky0-16.3).attr("width",32.6).attr("height",kstep*5).attr("fill","#F2F2F2");
  regions.forEach((r,i)=>{
    g.append("circle").attr("cx",kx).attr("cy",ky0+i*kstep).attr("r",dotR).attr("fill",color(r));
    g.append("text").attr("x",tx).attr("y",ky0+i*kstep+7).attr("font-size",17).attr("fill","#000").text(r);
  });
}
legend(912,470,32.6,938);
legend(1882,485.3,32.6,1908.5);

function txt(x,y,s,size,anchor,rot){
  const t=svg.append("text").attr("font-size",size).attr("fill","#000").attr("text-anchor",anchor||"start").text(s);
  if(rot) t.attr("transform",`translate(${x},${y}) rotate(-90)`); else t.attr("x",x).attr("y",y);
}
txt(0,50.5,"A",52);
txt(1118,45,"B",52);
txt(498,26,titleText,37.3,"middle");
txt(1488.5,36.7,titleText,37.3,"middle");
txt(486,1021.7,xTitle,32.3,"middle");
txt(1464,1026,xTitle,32.3,"middle");
txt(43,471.5,yTitleA,32.3,"middle",true);
txt(1023,460,yTitleB,32.4,"middle",true);
</script></body></html>
